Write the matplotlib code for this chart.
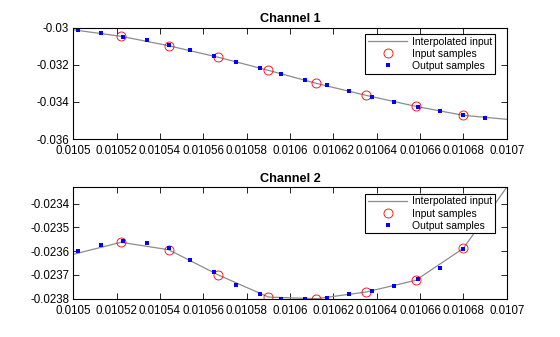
import matplotlib.pyplot as plt

plt.rcParams['font.family'] = ['Liberation Sans', 'DejaVu Sans']

# input samples (44.1 kHz) and output samples (96 kHz), both channels
t_in = [0.010522, 0.010544, 0.010567, 0.010590, 0.010612, 0.010635, 0.010658, 0.010680]
t_out = [0.010502, 0.010513, 0.010523, 0.010534, 0.010544, 0.010554, 0.010565, 0.010575,
         0.010586, 0.010596, 0.010607, 0.010617, 0.010627, 0.010638, 0.010648, 0.010659,
         0.010669, 0.010680, 0.010690]

# interpolated input curve (window edges + input sample times)
t_line = [0.0105] + t_in + [0.0107]
ch1_line = [-0.030113, -0.030464, -0.030970, -0.031596, -0.032297, -0.032997,
            -0.033644, -0.034237, -0.034723, -0.034938]
ch2_line = [-0.023613, -0.0235625, -0.0235937, -0.0237002, -0.0237928, -0.0238000,
            -0.0237718, -0.0237225, -0.0235878, -0.023331]

ch1_in = ch1_line[1:-1]
ch2_in = ch2_line[1:-1]

ch1_out = [-0.030140, -0.030302, -0.030485, -0.030679, -0.030949, -0.031218, -0.031542,
           -0.031865, -0.032189, -0.032512, -0.032836, -0.033105, -0.033429, -0.033752,
           -0.034022, -0.034291, -0.034507, -0.034723, -0.034884]
ch2_out = [-0.0235992, -0.0235752, -0.0235583, -0.0235667, -0.0235878, -0.0236383,
           -0.0236888, -0.0237423, -0.0237802, -0.0237990, -0.0237995, -0.0237958,
           -0.0237815, -0.0237676, -0.0237465, -0.0237183, -0.0236720, -0.0235920,
           -0.0234500]

xticks = [0.0105, 0.01052, 0.01054, 0.01056, 0.01058, 0.0106, 0.01062, 0.01064,
          0.01066, 0.01068, 0.0107]
xticklabels = ['0.0105', '0.01052', '0.01054', '0.01056', '0.01058', '0.0106',
               '0.01062', '0.01064', '0.01066', '0.01068', '0.0107']
ch1_yticks = [-0.036, -0.034, -0.032, -0.03]
ch1_yticklabels = ['-0.036', '-0.034', '-0.032', '-0.03']
ch2_yticks = [-0.0238, -0.0237, -0.0236, -0.0235, -0.0234]
ch2_yticklabels = ['-0.0238', '-0.0237', '-0.0236', '-0.0235', '-0.0234']

fig = plt.figure(figsize=(5.6, 3.37), dpi=100)
ax1 = fig.add_axes([0.1309, 0.5875, 0.7739, 0.3303])
ax2 = fig.add_axes([0.1309, 0.1128, 0.7739, 0.3314])

panels = [
    (ax1, 'Channel 1', ch1_line, ch1_in, ch1_out, (-0.036, -0.03), ch1_yticks, ch1_yticklabels),
    (ax2, 'Channel 2', ch2_line, ch2_in, ch2_out, (-0.023801, -0.023331), ch2_yticks, ch2_yticklabels),
]

for ax, title, yl, yi, yo, ylim, yt, ytl in panels:
    ax.plot(t_line, yl, color='#8c8c8c', lw=0.9, label='Interpolated input')
    ax.plot(t_in, yi, 'o', mfc='none', mec='red', ms=6.5, mew=0.6, label='Input samples')
    ax.plot(t_out, yo, 's', color='blue', ms=2.2, mew=0, label='Output samples')
    ax.set_xlim(0.0105, 0.0107)
    ax.set_ylim(*ylim)
    ax.set_xticks(xticks)
    ax.set_xticklabels(xticklabels)
    ax.set_yticks(yt)
    ax.set_yticklabels(ytl)
    ax.tick_params(direction='in', length=4, width=0.6, labelsize=8.3,
                   top=True, right=True)
    ax.tick_params(axis='x', pad=4)
    ax.tick_params(axis='y', pad=3)
    for s in ax.spines.values():
        s.set_linewidth(0.8)
    ax.set_title(title, fontsize=9.2, fontweight='bold', pad=4)
    leg = ax.legend(loc='upper right', bbox_to_anchor=(0.973, 0.941), fontsize=7.5,
                    frameon=True, fancybox=False, edgecolor='black', framealpha=1,
                    borderpad=0.25, labelspacing=0.2, handlelength=3.8,
                    handletextpad=0.45, borderaxespad=0)
    leg.get_frame().set_linewidth(0.8)

fig.savefig('out.png', dpi=100)
